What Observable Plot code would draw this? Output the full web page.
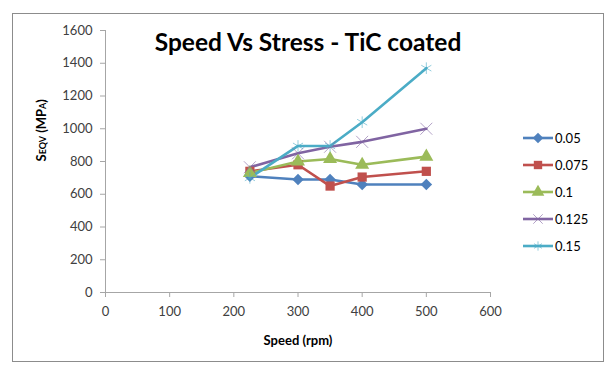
<!DOCTYPE html>
<html><head><meta charset="utf-8">
<script src="https://cdn.jsdelivr.net/npm/d3@7"></script>
<script src="https://cdn.jsdelivr.net/npm/@observablehq/plot@0.6"></script>
<style>
body{margin:0;background:#fff;}
#wrap{position:relative;width:608px;height:368px;font-family:Lato,"Open Sans",sans-serif;}
#frame{position:absolute;left:12px;top:13px;width:592px;height:349px;border:1px solid #8c8c8c;box-sizing:border-box;pointer-events:none;}
#title{position:absolute;left:0;width:616px;top:27px;text-align:center;font-weight:bold;font-size:24.5px;color:#000;}
#legend{position:absolute;left:515px;top:125px;}
</style></head>
<body><div id="wrap"><div id="frame"></div><div id="chart"></div><div id="title">Speed Vs Stress - TiC coated</div><svg id="legend" width="90" height="140"></svg></div>
<script>
const speeds = [225, 300, 350, 400, 500];
const seriesNames = ["0.05", "0.075", "0.1", "0.125", "0.15"];
const s005 = [710, 690, 690, 660, 660];
const s0075 = [740, 780, 650, 705, 740];
const s01 = [730, 800, 815, 780, 830];
const s0125 = [765, 850, 890, 920, 1000];
const s015 = [700, 895, 895, 1040, 1370];
const xTicks = [0, 100, 200, 300, 400, 500, 600];
const yTicks = [0, 200, 400, 600, 800, 1000, 1200, 1400, 1600];
const colors = ["#4F81BD", "#C0504D", "#9BBB59", "#8064A2", "#4BACC6"];
const symbols = ["diamond2", "square", "triangle", "times", "asterisk"];

const allSeries = [s005, s0075, s01, s0125, s015];
const rows = [];
allSeries.forEach((vals, i) => vals.forEach((v, j) => rows.push({series: seriesNames[i], speed: speeds[j], stress: v})));

const filled = rows.filter(d => ["0.05","0.075","0.1"].includes(d.series));
const stroked = rows.filter(d => ["0.125","0.15"].includes(d.series));

const chart = Plot.plot({
  width: 608, height: 368,
  marginLeft: 105, marginRight: 118, marginTop: 30, marginBottom: 76,
  style: {fontFamily: "Lato, 'Open Sans', sans-serif", fontSize: "13px", color: "#404040", background: "transparent"},
  x: {domain: [0, 600]},
  y: {domain: [0, 1600]},
  color: {domain: seriesNames, range: colors},
  symbol: {domain: seriesNames, range: symbols},
  marks: [
    Plot.ruleX([0], {stroke: "#a6a6a6"}),
    Plot.ruleY([0], {stroke: "#a6a6a6"}),
    Plot.axisX({ticks: xTicks, tickSize: 5, tickPadding: 9, stroke: "#a6a6a6", fill: "#404040", fontSize: 13, tickFormat: d => String(d), label: null}),
    Plot.axisY({ticks: yTicks, tickSize: 5, tickPadding: 8, stroke: "#a6a6a6", fill: "#404040", fontSize: 13, tickFormat: d => String(d), label: null}),
    Plot.line(rows, {x: "speed", y: "stress", z: "series", stroke: "series", strokeWidth: 2.6}),
    Plot.dot(filled, {x: "speed", y: "stress", symbol: "series", fill: "series", r: 5.2, stroke: null}),
    Plot.dot(stroked, {x: "speed", y: "stress", symbol: "series", stroke: "series", r: 5.5, strokeWidth: 1, strokeOpacity: 0.6}),
    Plot.text(["Speed (rpm)"], {frameAnchor: "bottom", dy: 52, fontWeight: "bold", fontSize: 13, fill: "#000"}),
    Plot.text(["Seqv (MPa)"], {frameAnchor: "left", dx: -64, rotate: -90, fontWeight: "bold", fontSize: 13, fill: "#000"})
  ]
});
document.getElementById("chart").appendChild(chart);
chart.querySelectorAll("text").forEach(t => { if (t.textContent === "Seqv (MPa)") t.style.fontVariant = "small-caps"; });

const lg = d3.select("#legend");
const symMap = {"diamond2": d3.symbolDiamond2, "square": d3.symbolSquare, "triangle": d3.symbolTriangle, "times": d3.symbolTimes, "asterisk": d3.symbolAsterisk};
seriesNames.forEach((name, i) => {
  const g = lg.append("g").attr("transform", `translate(0,${13 + i * 27})`);
  g.append("line").attr("x1", 8).attr("x2", 38).attr("y1", 0).attr("y2", 0).attr("stroke", colors[i]).attr("stroke-width", 2.6);
  const filledSym = i < 3;
  g.append("path").attr("transform", "translate(23,0)")
    .attr("d", d3.symbol(symMap[symbols[i]], filledSym ? 70 : 60)())
    .attr("fill", filledSym ? colors[i] : "none")
    .attr("stroke", filledSym ? "none" : colors[i]).attr("stroke-opacity", 0.6);
  g.append("text").attr("x", 40).attr("y", 0).attr("dy", "0.35em").attr("font-size", 13).attr("fill", "#000")
    .attr("font-family", "Lato, 'Open Sans', sans-serif").text(name);
});
</script></body></html>
